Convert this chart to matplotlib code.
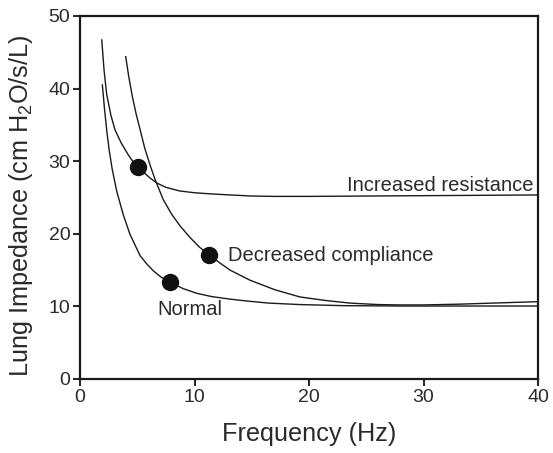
import matplotlib
matplotlib.use("Agg")
import matplotlib.pyplot as plt

plt.rcParams["font.family"] = ["Liberation Sans", "DejaVu Sans"]
plt.rcParams["mathtext.fontset"] = "custom"
plt.rcParams["mathtext.rm"] = "Liberation Sans"
plt.rcParams["mathtext.it"] = "Liberation Sans:italic"

# curves (frequency Hz, impedance cm H2O/s/L)
res_x = [1.9, 2.1, 2.33, 2.7, 3.06, 3.6, 4.2, 4.6, 5.1, 5.6, 6.1, 6.7, 7.5, 8.7, 10.0, 11.4,
         13.1, 15.0, 17.0, 20.0, 25.0, 30.0, 35.0, 40.0]
res_y = [46.7, 42.5, 39.2, 36.3, 34.3, 32.5, 30.9, 30.0, 29.2, 28.4, 27.7, 27.0, 26.4, 25.9, 25.65, 25.5,
         25.35, 25.2, 25.15, 25.15, 25.2, 25.25, 25.3, 25.35]

comp_x = [3.99, 4.25, 4.57, 4.9, 5.24, 5.65, 6.11, 6.55, 7.27, 8.0, 8.73, 9.6, 10.4, 11.27, 12.2, 13.1,
          14.85, 17.0, 19.2, 21.5, 23.6, 26.0, 28.0, 30.0, 33.0, 36.0, 40.0]
comp_y = [44.4, 41.7, 38.9, 36.5, 34.4, 31.8, 29.5, 27.5, 24.7, 22.7, 21.1, 19.5, 18.2, 17.1, 16.0, 15.0,
          13.6, 12.3, 11.3, 10.8, 10.45, 10.25, 10.2, 10.2, 10.3, 10.45, 10.65]

norm_x = [1.95, 2.15, 2.35, 2.55, 2.8, 3.2, 3.78, 4.37, 5.24, 5.8, 6.4, 7.1, 7.9, 9.0, 10.2, 11.5,
          13.1, 14.5, 16.5, 19.2, 23.0, 28.0, 34.0, 40.0]
norm_y = [40.5, 37.0, 34.0, 31.5, 29.0, 25.9, 22.6, 19.9, 17.0, 15.9, 14.9, 14.0, 13.3, 12.45, 11.8, 11.35,
          11.0, 10.75, 10.45, 10.25, 10.1, 10.05, 10.05, 10.05]

dot_x = [5.1, 11.25, 7.9]
dot_y = [29.2, 17.1, 13.3]

labels = ["Increased resistance", "Decreased compliance", "Normal"]

fig = plt.figure(figsize=(5.53, 4.53), dpi=100)
ax = fig.add_axes([0.1447, 0.1634, 0.8283, 0.8013])

line_kw = dict(color="#1a1a1a", linewidth=1.0)
ax.plot(res_x, res_y, **line_kw)
ax.plot(comp_x, comp_y, **line_kw)
ax.plot(norm_x, norm_y, **line_kw)
ax.plot(dot_x, dot_y, "o", color="#111111", markersize=11.5, zorder=5)

ax.text(39.6, 26.7, labels[0], ha="right", va="center", fontsize=14.5, color="#2a2a2a")
ax.text(12.9, 17.0, labels[1], ha="left", va="center", fontsize=14.5, color="#2a2a2a")
ax.text(9.6, 9.6, labels[2], ha="center", va="center", fontsize=14.5, color="#2a2a2a")

ax.set_xlim(0, 40)
ax.set_ylim(0, 50)
ax.set_xticks([0, 10, 20, 30, 40])
ax.set_yticks([0, 10, 20, 30, 40, 50])
ax.tick_params(axis="both", direction="out", length=5, width=1.5, labelsize=14,
               colors="#2a2a2a", pad=2)
for sp in ax.spines.values():
    sp.set_linewidth(1.6)
    sp.set_color("#1a1a1a")

ax.set_xlabel("Frequency (Hz)", fontsize=18.2, color="#2a2a2a", labelpad=12)
ax.set_ylabel("Lung Impedance (cm H$_2$O/s/L)", fontsize=18.2, color="#2a2a2a")
ax.yaxis.set_label_coords(-0.098, 0.478)

fig.savefig("out.png", dpi=100)
